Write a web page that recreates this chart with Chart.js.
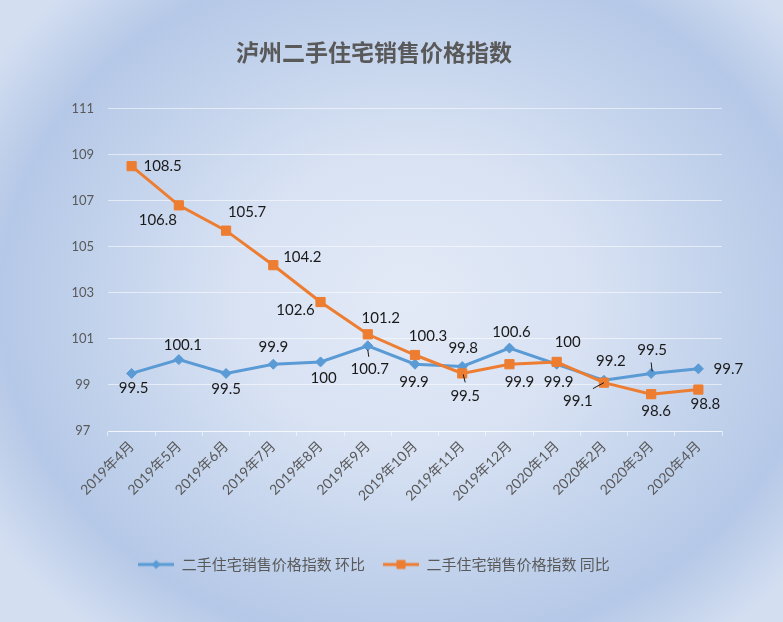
<!DOCTYPE html>
<html><head><meta charset="utf-8">
<script src="https://cdn.jsdelivr.net/npm/chart.js@4"></script>
<style>html,body{margin:0;padding:0;background:#fff}#wrap{width:783px;height:622px}</style>
</head><body><div id="wrap"><canvas id="c" width="783" height="622"></canvas></div>
<script>
const titleText = '泸州二手住宅销售价格指数';
const categories = ['2019年4月','2019年5月','2019年6月','2019年7月','2019年8月','2019年9月','2019年10月','2019年11月','2019年12月','2020年1月','2020年2月','2020年3月','2020年4月'];
const seriesNames = ['二手住宅销售价格指数 环比','二手住宅销售价格指数 同比'];
const huanbi = [99.5,100.1,99.5,99.9,100,100.7,99.9,99.8,100.6,99.9,99.2,99.5,99.7];
const tongbi = [108.5,106.8,105.7,104.2,102.6,101.2,100.3,99.5,99.9,100,99.1,98.6,98.8];
const yMin = 97, yMax = 111, yStep = 2;

// label placement (pixel offsets from each point) – styling only
const huanbiLabelOffsets = [[2,15],[4,-14],[0,16],[0,-17],[3,16],[2,23],[-1,18],[1,-18],[2,-16],[2,18],[7,-19],[1,-23],[30,0]];
const tongbiLabelOffsets = [[31,0],[-21,15],[21,-18],[29,-8],[-25,8],[13,-16],[13,-19],[3,23],[10,18],[11,-20],[-26,19],[5,17],[7,15]];
const huanbiLeaders = {5:[0,4,1,11], 11:[0,-11,1,-2]};
const tongbiLeaders = {7:[1,1,3,9], 10:[-11,6,0,0]};

const BLUE = '#5B9BD5', ORANGE = '#ED7D31';
const GRID = 'rgba(255,255,255,0.55)';
const TEXT = '#595959';

function legendIcon(color, style){
  const cv = document.createElement('canvas');
  cv.width = 36; cv.height = 14;
  const g = cv.getContext('2d');
  g.strokeStyle = color; g.lineWidth = 3;
  g.beginPath(); g.moveTo(0,7); g.lineTo(36,7); g.stroke();
  g.fillStyle = color;
  if (style === 'diamond'){
    g.beginPath(); g.moveTo(18,2.5); g.lineTo(22.5,7); g.lineTo(18,11.5); g.lineTo(13.5,7); g.closePath(); g.fill();
  } else {
    g.fillRect(13.5,2.5,9,9);
  }
  return cv;
}
const icons = [legendIcon(BLUE,'diamond'), legendIcon(ORANGE,'square')];

const bgPlugin = {
  id:'bg',
  beforeDraw(chart){
    const ctx = chart.ctx, w = chart.width, h = chart.height;
    ctx.save();
    const cx = 410, cy = 300;
    ctx.translate(cx, cy); ctx.scale(1, 0.85);
    const g = ctx.createRadialGradient(0,0,0,0,0,500);
    g.addColorStop(0,'#e3eaf7');
    g.addColorStop(0.35,'#d8e2f3');
    g.addColorStop(0.62,'#c3d3ec');
    g.addColorStop(0.82,'#b5c8e7');
    g.addColorStop(1,'#d3def1');
    ctx.fillStyle = g;
    ctx.fillRect(-cx, -cy/0.85, w, h/0.85);
    ctx.restore();
  }
};

const labelPlugin = {
  id:'dlabels',
  afterDatasetsDraw(chart){
    const ctx = chart.ctx;
    const cfg = [[huanbiLabelOffsets, huanbiLeaders],[tongbiLabelOffsets, tongbiLeaders]];
    ctx.save();
    ctx.font = '15px Lato, "Noto Sans CJK SC", sans-serif';
    ctx.fillStyle = '#1a1a1a';
    ctx.textAlign = 'center';
    ctx.textBaseline = 'middle';
    chart.data.datasets.forEach((ds, di) => {
      const meta = chart.getDatasetMeta(di);
      const [offs, leaders] = cfg[di];
      meta.data.forEach((pt, i) => {
        const o = offs[i];
        ctx.fillText(String(ds.data[i]), pt.x + o[0], pt.y + o[1]);
        const L = leaders[i];
        if (L){
          ctx.strokeStyle = '#1a1a1a'; ctx.lineWidth = 1;
          ctx.beginPath(); ctx.moveTo(pt.x + L[0], pt.y + L[1]); ctx.lineTo(pt.x + L[2], pt.y + L[3]); ctx.stroke();
        }
      });
    });
    ctx.restore();
  }
};

new Chart(document.getElementById('c'), {
  type:'line',
  data:{
    labels: categories,
    datasets:[
      {label: seriesNames[0], data: huanbi, borderColor: BLUE, backgroundColor: BLUE, borderWidth: 3,
       pointStyle:'rectRot', pointRadius:5, pointBorderWidth:1, pointBackgroundColor: BLUE, pointBorderColor: BLUE, tension:0, order:2},
      {label: seriesNames[1], data: tongbi, borderColor: ORANGE, backgroundColor: ORANGE, borderWidth: 3,
       pointStyle:'rect', pointRadius:6.5, pointBorderWidth:1, pointBackgroundColor: ORANGE, pointBorderColor: ORANGE, tension:0, order:1}
    ]
  },
  options:{
    responsive:false, devicePixelRatio:1, animation:false,
    layout:{padding:{left:26, right:61, top:0, bottom:40}},
    plugins:{
      title:{display:true, text:titleText, color:TEXT,
        font:{family:'"Noto Sans CJK SC", sans-serif', size:23, weight:'bold'}, padding:{top:38, bottom:43}},
      legend:{position:'bottom',
        labels:{usePointStyle:true, pointStyleWidth:36, color:TEXT, padding:18,
          font:{family:'"Noto Sans CJK SC", sans-serif', size:15},
          sort:(a,b)=>a.datasetIndex-b.datasetIndex,
          generateLabels(chart){
            const items = Chart.defaults.plugins.legend.labels.generateLabels(chart);
            items.forEach(it => { it.pointStyle = icons[it.datasetIndex]; });
            return items;
          }}},
      tooltip:{enabled:false}
    },
    scales:{
      x:{
        offset:true,
        afterFit(s){ s.height = 108; },
        grid:{display:true, drawOnChartArea:false, drawTicks:true, tickLength:5, color:GRID, offset:true},
        border:{display:true, color:GRID},
        ticks:{maxRotation:45, minRotation:45, autoSkip:false, color:TEXT, padding:2,
          font:{family:'Lato, "Noto Sans CJK SC", sans-serif', size:14}}
      },
      y:{
        min:yMin, max:yMax,
        afterFit(s){ s.width = 82; },
        afterBuildTicks(s){ s.ticks = []; for (let v = yMin; v <= yMax; v += yStep) s.ticks.push({value:v}); },
        grid:{color:GRID, drawTicks:false, lineWidth:1},
        border:{display:false},
        ticks:{stepSize:yStep, crossAlign:'center', padding:14, color:TEXT,
          font:{family:'Lato, sans-serif', size:13}}
      }
    }
  },
  plugins:[bgPlugin, labelPlugin]
});
</script></body></html>
